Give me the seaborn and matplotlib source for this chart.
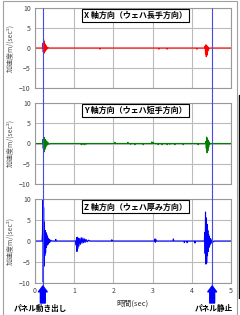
import numpy as np
import pandas as pd
import matplotlib
matplotlib.use("Agg")
import matplotlib.pyplot as plt
import seaborn as sns
from matplotlib.patches import Rectangle
from matplotlib.lines import Line2D

sns.set_style("white")
plt.rcParams['font.family'] = ['Noto Sans CJK JP', 'DejaVu Sans']

# ---------------- data ----------------
x_t = [0, 0.19, 0.20, 0.21, 0.22, 0.23, 0.24, 0.25, 0.26, 0.27, 0.28, 0.29, 0.30, 0.32, 0.34, 0.36,
       1.65, 1.66, 1.67, 3.15, 3.16, 3.17, 3.36, 3.37, 3.38, 4.12, 4.13, 4.14,
       4.33, 4.34, 4.35, 4.36, 4.37, 4.38, 4.39, 4.40, 4.41, 4.42, 4.43, 4.45, 5.0]
x_v = [0, 0, 1.2, -1.0, 2.1, -1.3, 1.6, -0.9, 1.0, -0.7, 0.6, -0.4, 0.3, -0.2, 0.1, 0,
       0, -0.3, 0, 0, -0.3, 0, 0, -0.3, 0, 0, -0.3, 0,
       0, 0.5, -1.5, 0.8, -2.2, 0.6, -1.8, 0.4, -0.8, 0.2, -0.3, 0, 0]

y_t = [0, 0.19, 0.20, 0.21, 0.22, 0.23, 0.24, 0.25, 0.26, 0.27, 0.28, 0.29, 0.30, 0.31, 0.33, 0.35, 0.38,
       1.17, 1.18, 1.19, 1.21, 1.22, 1.23, 1.25, 1.26, 1.27, 1.29, 1.30, 1.31,
       2.03, 2.04, 2.05, 2.36, 2.37, 2.38, 2.43, 2.44, 2.45, 2.54, 2.55, 2.56,
       2.75, 2.76, 2.77, 2.97, 2.98, 2.99, 3.01, 3.02, 3.03, 3.13, 3.14, 3.15,
       3.23, 3.24, 3.25, 3.36, 3.37, 3.38, 3.43, 3.44, 3.45, 3.56, 3.57, 3.58,
       3.77, 3.78, 3.79, 4.15, 4.16, 4.17,
       4.35, 4.36, 4.37, 4.38, 4.39, 4.40, 4.41, 4.42, 4.43, 4.44, 4.45, 4.47, 5.0]
y_v = [0, 0, 1.0, -1.2, 1.6, -2.1, 1.4, -1.5, 1.0, -1.0, 0.7, -0.6, 0.5, -0.4, 0.3, -0.2, 0,
       0, -0.3, 0, 0, -0.2, 0, 0, -0.3, 0, 0, -0.2, 0,
       0, 0.3, 0, 0, 0.3, 0, 0, -0.2, 0, 0, -0.3, 0,
       0, -0.3, 0, 0, 0.4, 0, 0, 0.3, 0, 0, -0.3, 0,
       0, -0.3, 0, 0, -0.3, 0, 0, -0.2, 0, 0, -0.3, 0,
       0, -0.3, 0, 0, -0.3, 0,
       0, 0.5, -1.2, 1.6, -2.3, 1.2, -1.8, 0.8, -0.9, 0.4, -0.3, 0, 0]

z_t = [0, 0.18, 0.19, 0.20, 0.21, 0.22, 0.23, 0.24, 0.25, 0.26, 0.27, 0.28, 0.29, 0.30, 0.31, 0.32,
       0.33, 0.34, 0.35, 0.36, 0.38, 0.40, 0.43, 0.52, 0.53, 0.54,
       1.04, 1.05, 1.06, 1.07, 1.08, 1.09, 1.10, 1.12, 1.14, 1.16, 1.18, 1.20, 1.22, 1.24, 1.26,
       1.28, 1.30, 1.33, 1.36, 1.40, 1.95, 1.96, 1.97,
       3.05, 3.06, 3.07, 3.08, 3.09, 3.52, 3.53, 3.54, 3.80, 3.81, 3.82, 3.87, 3.88, 3.89,
       4.07, 4.08, 4.09,
       4.32, 4.33, 4.34, 4.35, 4.36, 4.37, 4.38, 4.39, 4.40, 4.41, 4.42, 4.43, 4.44, 4.45, 4.46,
       4.48, 4.50, 4.52, 4.55, 4.58, 5.0]
z_v = [0, 0, 2.0, 10.5, -9.8, 8.0, -6.0, 4.5, -3.5, 2.5, -2.8, 2.0, -1.5, 1.5, -1.0, 1.0,
       -0.8, 0.6, -0.5, 0.4, -0.3, 0.2, 0, 0, 0.4, 0,
       0, -1.0, 0.8, -2.5, 0.9, -1.8, 0.7, -1.2, 0.6, -0.8, 0.8, -0.5, 0.7, -0.4, 0.5,
       -0.3, 0.4, -0.2, 0.2, 0, 0, 0.3, 0,
       0, 0.5, -0.3, 0.4, 0, 0, 0.5, 0, 0, -0.4, 0, 0, -0.4, 0,
       0, -0.5, 0,
       0, 2.0, -3.0, 6.9, -5.5, 5.5, -5.2, 4.0, -3.5, 2.5, -2.5, 1.5, -1.5, 1.0, -1.0,
       0.6, -0.5, 0.3, -0.2, 0, 0]

titles = ["X 軸方向（ウェハ長手方向）", "Y 軸方向（ウェハ短手方向）", "Z 軸方向（ウェハ厚み方向）"]
colors = ["#FF0000", "#008000", "#0000FF"]
y_ticks = [10, 5, 0, -5, -10]
x_ticks = [0, 1, 2, 3, 4, 5]
events = [0.2, 4.52]
event_labels = ["パネル動き出し", "パネル静止"]
ylabel = "加速度m/(sec²)"
xlabel = "時間(sec)"

# ---------------- figure ----------------
W, H = 240, 315
fig = plt.figure(figsize=(W / 100, H / 100), dpi=100)
fig.patch.set_facecolor("white")

L = 35 / W
AW = (231 - 35) / W
panels = [(8, 88), (103, 184), (199, 283)]
series = [(x_t, x_v), (y_t, y_v), (z_t, z_v)]

for i, ((top, bot), (tt, vv)) in enumerate(zip(panels, series)):
    ax = fig.add_axes([L, 1 - bot / H, AW, (bot - top) / H])
    df = pd.DataFrame({"t": tt, "v": vv})
    sns.lineplot(data=df, x="t", y="v", ax=ax, color=colors[i], lw=0.8, sort=False)
    ax.set_xlim(0, 5)
    ax.set_ylim(-10, 10)
    ax.set_yticks(y_ticks)
    ax.set_xticks(x_ticks)
    ax.grid(True, color="#BBBBBB", lw=0.8)
    ax.set_axisbelow(True)
    for s in ax.spines.values():
        s.set_color("#999999")
        s.set_linewidth(0.8)
    ax.tick_params(axis="both", length=0, labelsize=5, labelcolor="#444444", pad=3)
    ax.set_xlabel("")
    ax.set_ylabel("")
    if i < 2:
        ax.set_xticklabels([])
    else:
        ax.set_xlabel(xlabel, fontsize=5.5, color="#333333", labelpad=3)
    ax.text(0.513, 0.905, titles[i], transform=ax.transAxes, ha="center", va="center",
            fontsize=5.8, fontweight="bold", color="black",
            bbox=dict(boxstyle="square,pad=0.25", fc="white", ec="black", lw=0.8))
    fig.text(10 / W, 1 - (top + bot) / 2 / H, ylabel, rotation=90, ha="center", va="center",
             fontsize=5, color="#555555")

# overlay for event markers
ov = fig.add_axes([L, 0, AW, 1], zorder=10)
ov.set_xlim(0, 5)
ov.set_ylim(H, 0)
ov.axis("off")
ov.patch.set_alpha(0)
ov.vlines(events, 8, 288, color="#4848E8", lw=0.8)
for t in events:
    ov.annotate("", xy=(t, 286), xytext=(t, 303),
                arrowprops=dict(arrowstyle="simple,head_width=0.9,head_length=0.6,tail_width=0.5",
                                color="#0000FF", mutation_scale=7, shrinkA=0, shrinkB=0))
ov.text(events[0] - 0.07, 308, event_labels[0], ha="center", va="center", fontsize=5.5,
        fontweight="bold", color="black")
ov.text(events[1] + 0.05, 308, event_labels[1], ha="center", va="center", fontsize=5.5,
        fontweight="bold", color="black")

# outer frame
fig.patches.append(Rectangle((3 / W, 0.5 / H), (W - 6) / W, (H - 1.5) / H, transform=fig.transFigure,
                             fill=False, ec="#A0A0A0", lw=0.8))
fig.lines.append(Line2D([238.5 / W, 238.5 / W], [1 - 95 / H, 1 - 298 / H], transform=fig.transFigure,
                        color="black", lw=1.0))

fig.savefig("out.png", dpi=100)
